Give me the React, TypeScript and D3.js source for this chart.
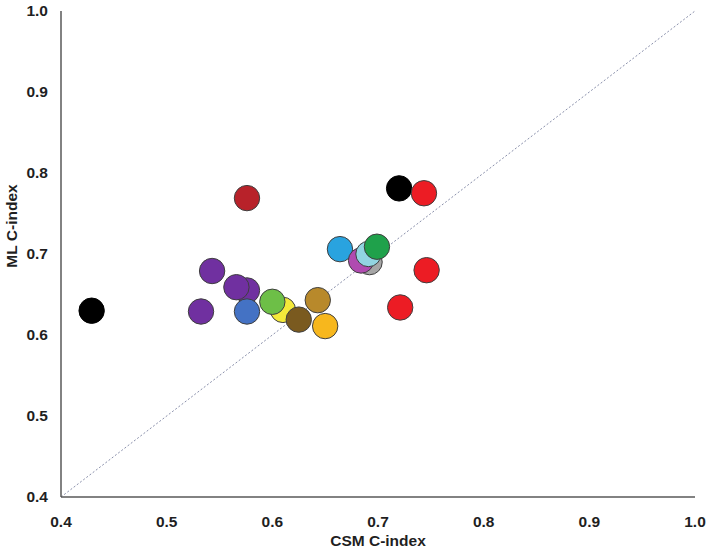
import React from "react";
import * as d3 from "d3";

const csmCIndex = [0.429, 0.5325, 0.543, 0.576, 0.566, 0.576, 0.576, 0.610, 0.600, 0.625, 0.643, 0.650, 0.664, 0.692, 0.684, 0.691, 0.699, 0.720, 0.7435, 0.746, 0.721];
const mlCIndex = [0.630, 0.629, 0.679, 0.655, 0.659, 0.629, 0.769, 0.631, 0.641, 0.619, 0.643, 0.611, 0.706, 0.690, 0.692, 0.700, 0.709, 0.781, 0.775, 0.680, 0.634];
const pointColors = ["#000000", "#7030a0", "#7030a0", "#7030a0", "#7030a0", "#4472c4", "#b8222a", "#f4e93a", "#6dbf47", "#7a5a1f", "#b8892b", "#f7b71d", "#29a3df", "#a6a6a6", "#b04bb0", "#92d5e2", "#1fa14b", "#000000", "#ec1c24", "#ec1c24", "#ec1c24"];
const tickValues = [0.4, 0.5, 0.6, 0.7, 0.8, 0.9, 1.0];
const xTitle = "CSM C-index";
const yTitle = "ML C-index";

export default function App() {
  const W = 709, H = 550;
  const x = d3.scaleLinear().domain([0.4, 1.0]).range([61, 695]);
  const y = d3.scaleLinear().domain([0.4, 1.0]).range([497, 11]);
  const font = "'Liberation Sans', Arial, sans-serif";
  const pts = csmCIndex.map((c, i) => ({ c, m: mlCIndex[i], col: pointColors[i] }));
  return (
    <svg width={W} height={H} style={{ position: "absolute", left: 0, top: 0, background: "#fff" }} fontFamily={font}>
      <line x1={x(0.4)} y1={y(0.4)} x2={x(1.0)} y2={y(1.0)} stroke="#8a90ab" strokeWidth={1} strokeDasharray="2,2" />
      <line x1={x(0.4)} y1={y(1.0)} x2={x(0.4)} y2={y(0.4)} stroke="#595959" strokeWidth={1.5} />
      <line x1={x(0.4)} y1={y(0.4)} x2={x(1.0)} y2={y(0.4)} stroke="#595959" strokeWidth={1.5} />
      {pts.map((p, i) => (
        <circle key={i} cx={x(p.c)} cy={y(p.m)} r={12.7} fill={p.col} stroke={p.col === "#000000" ? "#000" : "#3f3f3f"} strokeWidth={1} />
      ))}
      {tickValues.map((t) => (
        <text key={"x" + t} x={x(t)} y={y(0.4) + 30} textAnchor="middle" fontSize={15.5} fontWeight="bold" fill="#1f1f1f">
          {t.toFixed(1)}
        </text>
      ))}
      {tickValues.map((t) => (
        <text key={"y" + t} x={48} y={y(t)} dy="0.35em" textAnchor="end" fontSize={15.5} fontWeight="bold" fill="#1f1f1f">
          {t.toFixed(1)}
        </text>
      ))}
      <text x={(x(0.4) + x(1.0)) / 2} y={546} textAnchor="middle" fontSize={15.5} fontWeight="bold" fill="#1f1f1f">{xTitle}</text>
      <text transform={`translate(17,${226}) rotate(-90)`} textAnchor="middle" fontSize={15.5} fontWeight="bold" fill="#1f1f1f">{yTitle}</text>
    </svg>
  );
}
